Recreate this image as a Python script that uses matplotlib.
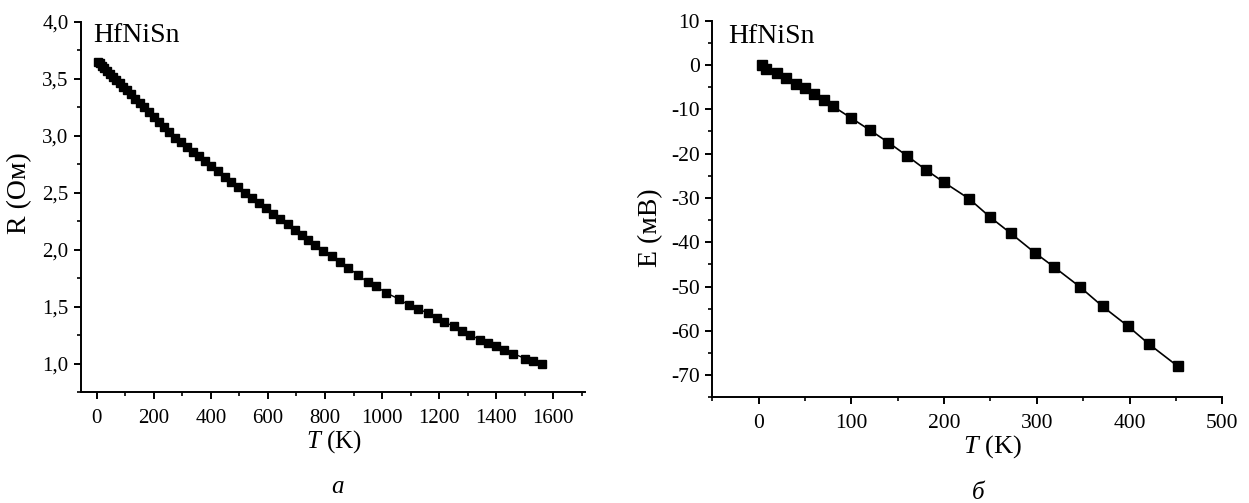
import matplotlib
matplotlib.use("Agg")
import matplotlib.pyplot as plt
from matplotlib.ticker import MultipleLocator, FuncFormatter

plt.rcParams['font.family'] = ['Liberation Serif', 'DejaVu Serif']
plt.rcParams['mathtext.fontset'] = 'custom'
plt.rcParams['mathtext.rm'] = 'Liberation Serif'
plt.rcParams['mathtext.it'] = 'Liberation Serif:italic'

# Resistance of HfNiSn vs temperature
temp_r = [3.5, 10, 18, 27, 36, 46, 57, 68, 80, 93, 106, 120, 135, 150, 166, 182,
          200, 218, 236, 255, 275, 295, 316, 337, 358, 380, 402, 425, 448, 471,
          495, 519, 543, 568, 593, 618, 644, 670, 695, 718, 741, 765, 794, 823,
          852, 882, 914, 950, 979, 1013, 1059, 1095, 1127, 1162, 1191, 1218,
          1252, 1281, 1308, 1343, 1372, 1398, 1428, 1460, 1501, 1530, 1561]
resistance = [3.652, 3.636, 3.616, 3.594, 3.572, 3.547, 3.520, 3.493, 3.464,
              3.432, 3.400, 3.365, 3.328, 3.292, 3.252, 3.213, 3.169, 3.124,
              3.080, 3.033, 2.986, 2.947, 2.905, 2.863, 2.822, 2.778, 2.735,
              2.689, 2.644, 2.597, 2.550, 2.502, 2.457, 2.411, 2.365, 2.319,
              2.271, 2.223, 2.176, 2.133, 2.089, 2.040, 1.993, 1.943, 1.894,
              1.841, 1.783, 1.715, 1.680, 1.625, 1.568, 1.513, 1.480, 1.445,
              1.403, 1.365, 1.330, 1.292, 1.253, 1.213, 1.180, 1.154, 1.119,
              1.090, 1.046, 1.023, 0.994]

# Thermopower signal of HfNiSn vs temperature
temp_e = [4, 8, 20, 30, 40, 50, 60, 70, 80, 100, 120, 140, 160, 180, 200, 227,
          250, 272, 298, 318, 346, 371, 398, 421, 452]
emf = [0.0, -0.8, -1.9, -3.0, -4.2, -5.3, -6.6, -7.9, -9.3, -12.0, -14.7, -17.5,
       -20.5, -23.6, -26.5, -30.2, -34.4, -38.0, -42.4, -45.5, -50.0, -54.5,
       -58.9, -63.0, -68.0]

sample = "HfNiSn"
W, H = 1249, 503
fig = plt.figure(figsize=(W / 100, H / 100), dpi=100)


def box(x0, x1, ytop, ybot):
    return [x0 / W, 1 - ybot / H, (x1 - x0) / W, (ybot - ytop) / H]


def style(ax, fs):
    for s in ('top', 'right'):
        ax.spines[s].set_visible(False)
    for s in ('left', 'bottom'):
        ax.spines[s].set_linewidth(1.4)
    ax.tick_params(which='major', direction='out', length=5, width=1.4,
                   labelsize=fs, pad=4)
    ax.tick_params(axis='x', which='major', pad=7)
    ax.tick_params(which='minor', direction='out', length=3, width=1.2)


ax1 = fig.add_axes(box(81, 585, 22, 392.3))
ax1.plot(temp_r, resistance, color='black', lw=1.0, marker='s', ms=5.2,
         mfc='black', mec='black')
ax1.set_xlim(-55, 1711)
ax1.set_ylim(0.75, 4.0)
ax1.xaxis.set_major_locator(MultipleLocator(200))
ax1.xaxis.set_minor_locator(MultipleLocator(100))
ax1.yaxis.set_major_locator(MultipleLocator(0.5))
ax1.yaxis.set_minor_locator(MultipleLocator(0.25))
ax1.yaxis.set_major_formatter(FuncFormatter(lambda v, p: f"{v:.1f}".replace('.', ',')))
style(ax1, 15)

ax2 = fig.add_axes(box(712.3, 1222.3, 20.7, 397.3))
ax2.plot(temp_e, emf, color='black', lw=1.2, marker='s', ms=6.5,
         mfc='black', mec='black')
ax2.set_xlim(-50, 500)
ax2.set_ylim(-75, 10)
ax2.xaxis.set_major_locator(MultipleLocator(100))
ax2.xaxis.set_minor_locator(MultipleLocator(50))
ax2.yaxis.set_major_locator(MultipleLocator(10))
ax2.yaxis.set_minor_locator(MultipleLocator(5))
ax2.yaxis.set_major_formatter(FuncFormatter(lambda v, p: f"{v:.0f}".replace('\u2212', '-')))
ax2.xaxis.set_major_formatter(FuncFormatter(lambda v, p: f"{v:.0f}"))
style(ax2, 15.5)


def fx(px):
    return px / W


def fy(py):
    return 1 - py / H


fig.text(fx(93), fy(35), sample, fontsize=20, ha='left', va='center')
fig.text(fx(728), fy(36.7), sample, fontsize=20, ha='left', va='center')

fig.text(fx(20), fy(193), "R (Ом)", fontsize=20, rotation=90,
         ha='center', va='center')
fig.text(fx(651), fy(228), "E (мВ)", fontsize=20, rotation=90,
         ha='center', va='center')

fig.text(fx(334), fy(442), r"$\mathit{T}$ (K)", fontsize=18, ha='center', va='center')
fig.text(fx(992), fy(447), r"$\mathit{T}$ (K)", fontsize=19, ha='center', va='center')

fig.text(fx(337.7), fy(487), "a", fontsize=18, style='italic',
         ha='center', va='center')
fig.text(fx(978), fy(493), "б", fontsize=18, style='italic',
         ha='center', va='center')

fig.savefig("out.png", dpi=100, facecolor='white')
